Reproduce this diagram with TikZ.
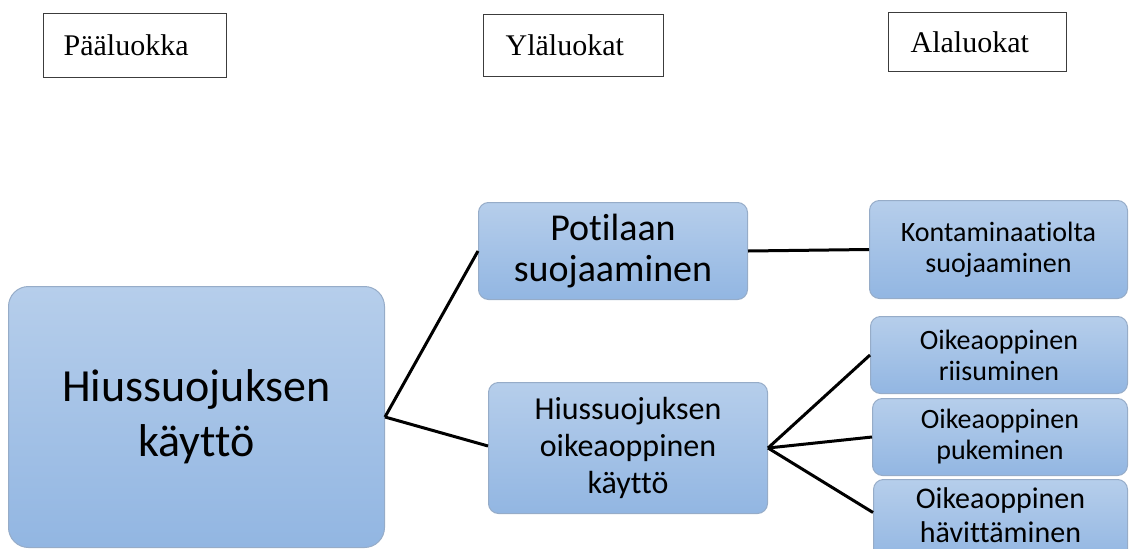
\documentclass[tikz,border=0pt]{standalone}
\usepackage{fontspec}
\setmainfont{Liberation Serif}
\newfontfamily\carl[Ligatures={NoCommon}]{Carlito}
\definecolor{boxtop}{RGB}{182,206,235}
\definecolor{boxbot}{RGB}{146,182,226}
\definecolor{boxline}{RGB}{150,172,200}
\definecolor{hdrline}{RGB}{60,60,60}
\tikzset{
  bluebox/.style={draw=boxline, line width=1pt, top color=boxtop, bottom color=boxbot,
    anchor=north west, rounded corners=#1, inner sep=0pt, align=center},
  bluebox/.default=10pt,
  hdr/.style={draw=hdrline, line width=1.3pt, anchor=north west, align=left, inner ysep=0pt,
    font=\fontsize{30}{34}\selectfont},
  conn/.style={line width=3pt, black}
}
\begin{document}
\begin{tikzpicture}[x=1pt,y=-1pt]
\useasboundingbox (0,0) rectangle (1136,549);
\clip (0,0) rectangle (1136,549);
% headers
\node[hdr, minimum width=183pt, minimum height=64pt, text width=143pt, inner xsep=20pt] (h1) at (43,13) {Pääluokka};
\node[hdr, minimum width=180pt, minimum height=62pt, text width=136pt, inner xsep=22pt] (h2) at (483,14) {Yläluokat};
\node[hdr, minimum width=178pt, minimum height=59pt, text width=134pt, inner xsep=22pt] (h3) at (888,12) {Alaluokat};
% blue boxes
\node[bluebox=20pt, minimum width=376pt, minimum height=261pt, font=\carl\fontsize{46}{55}\selectfont] (main) at (8,286) {Hiussuojuksen\\käyttö};
\node[bluebox, minimum width=269pt, minimum height=97pt, font=\carl\fontsize{38}{41}\selectfont] (pot) at (478,202) {Potilaan\\suojaaminen};
\node[bluebox, minimum width=279pt, minimum height=131pt, font=\carl\fontsize{32}{37}\selectfont] (hk) at (488,382) {Hiussuojuksen\\oikeaoppinen\\käyttö};
\node[bluebox, minimum width=258pt, minimum height=98pt, font=\carl\fontsize{28}{31}\selectfont] (kont) at (869,200) {Kontaminaatiolta\\suojaaminen};
\node[bluebox, minimum width=257pt, minimum height=77pt, font=\carl\fontsize{28}{31}\selectfont] (riis) at (870,316) {Oikeaoppinen\\riisuminen};
\node[bluebox, minimum width=255pt, minimum height=77pt, font=\carl\fontsize{28}{31}\selectfont] (puk) at (872,398) {Oikeaoppinen\\pukeminen};
\node[bluebox, minimum width=254pt, minimum height=82pt] (hav) at (873,479) {};
\node[anchor=north, align=center, inner sep=0pt, font=\carl\fontsize{30}{34}\selectfont] (havt) at ([yshift=-8pt]hav.north) {Oikeaoppinen\\hävittäminen};
% connectors
\draw[conn] (main.east) -- (pot.west);
\draw[conn] (main.east) -- ([yshift=2pt]hk.west);
\draw[conn] (pot.east) -- (kont.west);
\draw[conn] (hk.east) -- (riis.west);
\draw[conn] (hk.east) -- (puk.west);
\draw[conn] (hk.east) -- ([yshift=8pt]hav.west);
\end{tikzpicture}
\end{document}
